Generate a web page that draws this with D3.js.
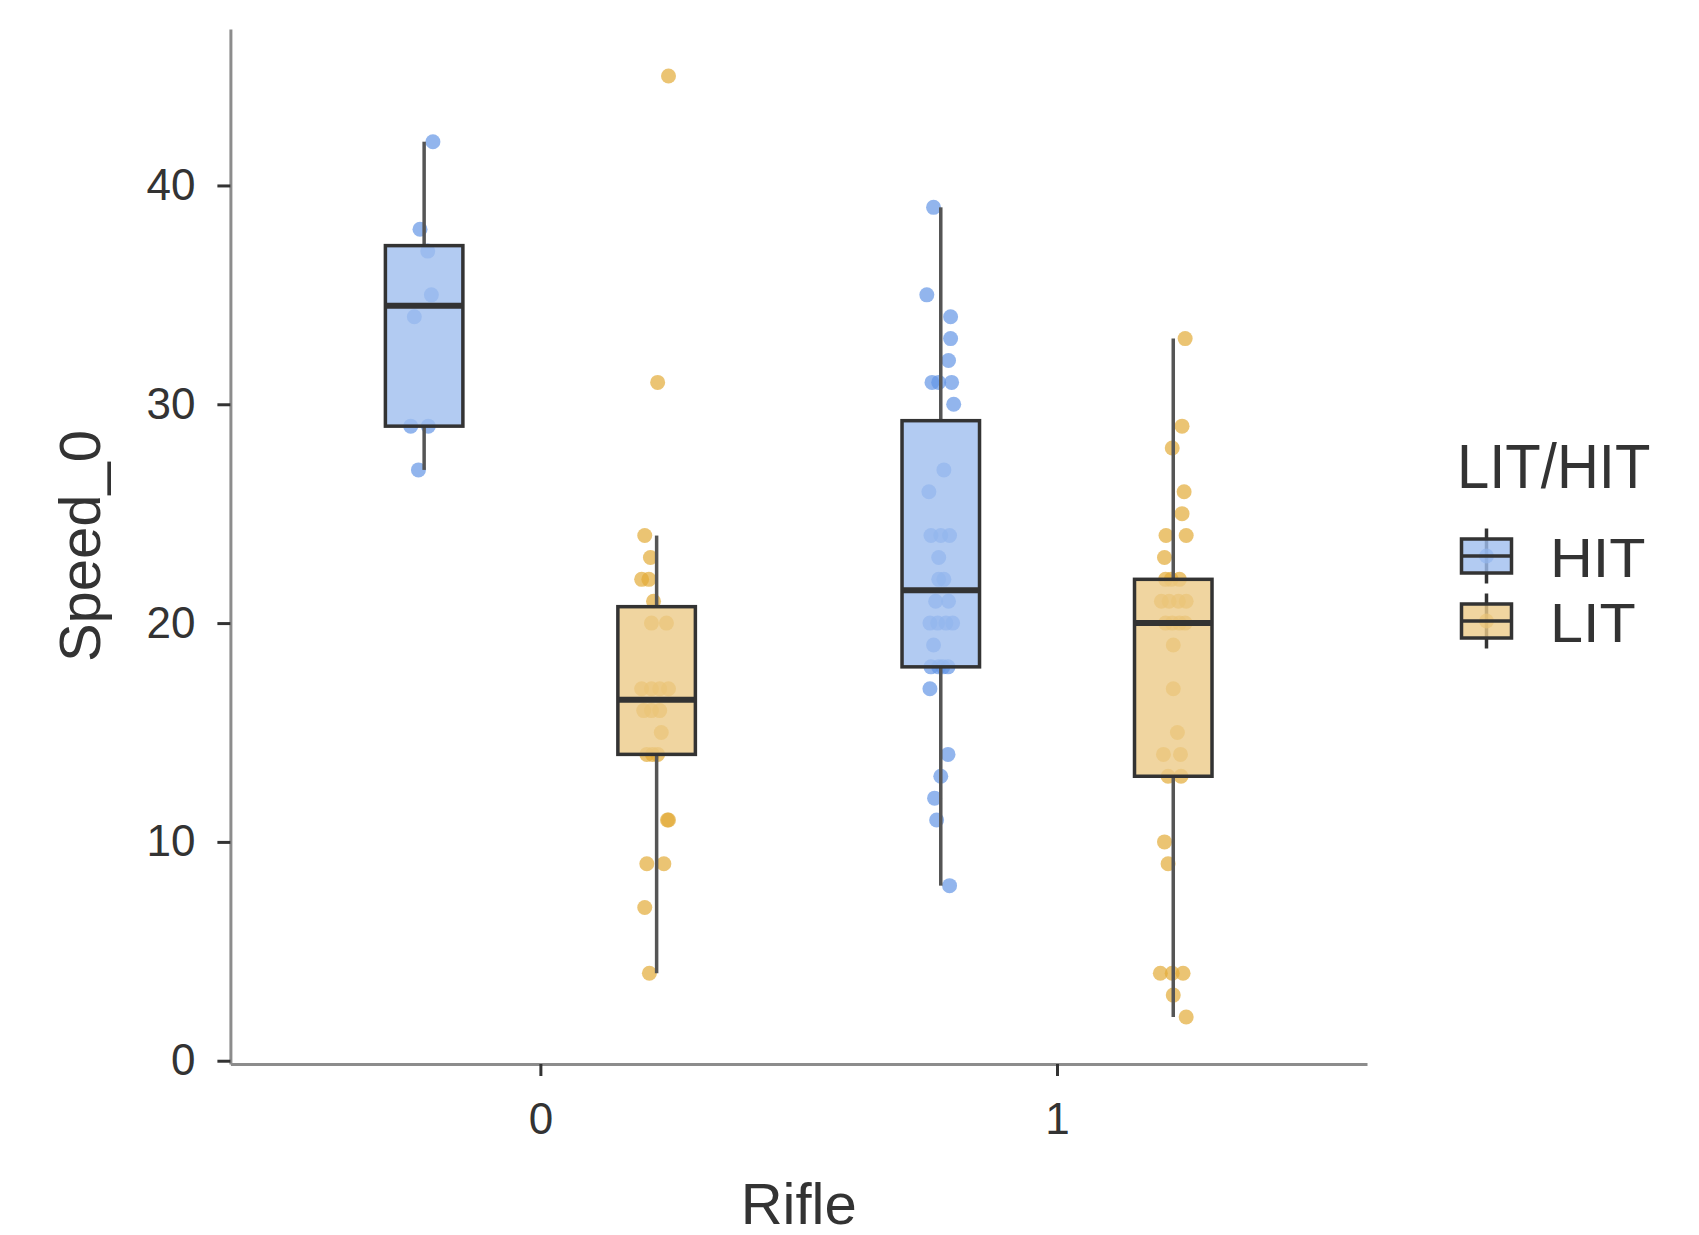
<!DOCTYPE html>
<html>
<head>
<meta charset="utf-8">
<script src="https://cdn.jsdelivr.net/npm/d3@7"></script>
<style>
  body { margin: 0; background: #fff; }
  text { font-family: "Liberation Sans", Arial, sans-serif; fill: #333; }
</style>
</head>
<body>
<div id="chart"></div>
<script>
var width = 1699;
var height = 1235;

// categories
var rifleCats = ["0", "1"];
var groups = ["HIT", "LIT"];
var yTicks = [0, 10, 20, 30, 40];

// Speed_0 values
var hit0 = [42, 38, 37, 35, 34, 29, 29, 27];
var lit0 = [45, 31, 24, 23, 22, 22, 21, 20, 20, 17, 17, 17, 17, 16, 16, 16, 15, 14, 14, 14, 11, 11, 9, 9, 7, 4];
var hit1 = [39, 35, 34, 33, 32, 31, 31, 31, 30, 27, 26, 24, 24, 24, 23, 22, 22, 21, 21, 20, 20, 20, 20, 19, 18, 18, 18, 18, 17, 14, 13, 12, 11, 8];
var lit1 = [33, 29, 28, 26, 25, 24, 24, 23, 22, 22, 22, 21, 21, 21, 21, 20, 20, 20, 20, 19, 17, 15, 14, 14, 13, 13, 10, 9, 4, 4, 4, 3, 2];

// horizontal jitter of each point, in category units
var hit0Jit = [0.017, -0.008, 0.007, 0.014, -0.019, -0.026, 0.008, -0.011];
var lit0Jit = [0.023, 0.002, -0.023, -0.012, -0.029, -0.015, -0.006, -0.010, 0.019, -0.029, -0.010, 0.006, 0.023, -0.025, -0.010, 0.006, 0.009, -0.019, -0.008, 0.002, 0.023, 0.021, -0.019, 0.014, -0.023, -0.014];
var hit1Jit = [-0.014, -0.027, 0.019, 0.019, 0.015, -0.017, -0.004, 0.021, 0.025, 0.006, -0.023, -0.019, 0, 0.017, -0.004, -0.004, 0.006, 0.015, -0.010, -0.021, -0.006, 0.010, 0.023, -0.014, -0.019, -0.004, 0.004, 0.014, -0.021, 0.014, 0, -0.012, -0.008, 0.017];
var lit1Jit = [0.023, 0.017, -0.002, 0.021, 0.017, -0.014, 0.025, -0.017, -0.015, -0.004, 0.012, -0.023, -0.008, 0.010, 0.025, -0.015, -0.002, 0.012, 0.023, 0, 0, 0.008, -0.019, 0.014, -0.010, 0.015, -0.017, -0.010, -0.025, -0.002, 0.019, 0, 0.025];

var colors = {HIT: "rgb(100,150,230)", LIT: "rgb(226,171,56)"};
var boxFill = {HIT: "rgb(159,190,239)", LIT: "rgb(236,203,136)"};

var boxes = [
  {rifle: 0, group: "HIT", values: hit0, jit: hit0Jit},
  {rifle: 0, group: "LIT", values: lit0, jit: lit0Jit},
  {rifle: 1, group: "HIT", values: hit1, jit: hit1Jit},
  {rifle: 1, group: "LIT", values: lit1, jit: lit1Jit}
];

var dodge = 0.225, boxW = 0.15;

var x = d3.scaleLinear().domain([0.4, 2.6]).range([230.4, 1367]);
var y = d3.scaleLinear().domain([-0.15, 47.15]).range([1064, 29]);

function cx(b) { return x(b.rifle + 1 + (b.group == "HIT" ? -dodge : dodge)); }

boxes.forEach(function(b) {
  var s = b.values.slice().sort(d3.ascending);
  b.q1 = d3.quantile(s, 0.25);
  b.med = d3.quantile(s, 0.5);
  b.q3 = d3.quantile(s, 0.75);
  var iqr = b.q3 - b.q1;
  b.lo = d3.min(s.filter(function(v) { return v >= b.q1 - 1.5 * iqr; }));
  b.hi = d3.max(s.filter(function(v) { return v <= b.q3 + 1.5 * iqr; }));
});

var svg = d3.select("#chart")
  .append("svg")
    .attr("width", width)
    .attr("height", height);

// jittered points
boxes.forEach(function(b) {
  svg.append("g").selectAll("circle")
    .data(b.values)
    .enter()
      .append("circle")
        .attr("cx", function(d, i) { return x(b.rifle + 1 + (b.group == "HIT" ? -dodge : dodge) + b.jit[i]); })
        .attr("cy", function(d) { return y(d); })
        .attr("r", 7.5)
        .attr("fill", colors[b.group])
        .attr("fill-opacity", 0.7);
});

// boxplots
var bp = svg.append("g").selectAll("g")
  .data(boxes)
  .enter()
    .append("g");

bp.append("line")
  .attr("x1", cx).attr("x2", cx)
  .attr("y1", function(b) { return y(b.hi); })
  .attr("y2", function(b) { return y(b.q3); })
  .attr("stroke", "#555").attr("stroke-width", 3.5);
bp.append("line")
  .attr("x1", cx).attr("x2", cx)
  .attr("y1", function(b) { return y(b.q1); })
  .attr("y2", function(b) { return y(b.lo); })
  .attr("stroke", "#555").attr("stroke-width", 3.5);

var half = (x(boxW) - x(0)) / 2;
bp.append("rect")
  .attr("x", function(b) { return cx(b) - half; })
  .attr("width", half * 2)
  .attr("y", function(b) { return y(b.q3); })
  .attr("height", function(b) { return y(b.q1) - y(b.q3); })
  .attr("fill", function(b) { return boxFill[b.group]; })
  .attr("fill-opacity", 0.8)
  .attr("stroke", "#333")
  .attr("stroke-width", 3.5);

bp.append("line")
  .attr("x1", function(b) { return cx(b) - half; })
  .attr("x2", function(b) { return cx(b) + half; })
  .attr("y1", function(b) { return y(b.med); })
  .attr("y2", function(b) { return y(b.med); })
  .attr("stroke", "#333").attr("stroke-width", 6);

// axes
var yAxis = svg.append("g")
  .attr("transform", "translate(230.4,0)")
  .call(d3.axisLeft(y).tickValues(yTicks).tickSize(13).tickSizeOuter(0).tickPadding(22));
var xAxis = svg.append("g")
  .attr("transform", "translate(0,1064)")
  .call(d3.axisBottom(x).tickValues([1, 2]).tickFormat(function(d) { return rifleCats[d - 1]; })
    .tickSize(12).tickSizeOuter(0).tickPadding(27));

[yAxis, xAxis].forEach(function(a) {
  a.select(".domain").attr("stroke", "#8c8c8c").attr("stroke-width", 3);
  a.selectAll(".tick line").attr("stroke", "#333").attr("stroke-width", 3);
  a.selectAll(".tick text").attr("font-size", 44).attr("fill", "#3a3a3a")
    .style("font-family", "'Liberation Sans', Arial, sans-serif");
});

svg.append("text")
  .attr("x", 798.7).attr("y", 1224)
  .attr("text-anchor", "middle")
  .attr("font-size", 58)
  .text("Rifle");

svg.append("text")
  .attr("transform", "translate(100,546) rotate(-90)")
  .attr("text-anchor", "middle")
  .attr("font-size", 58)
  .text("Speed_0");

// legend
var leg = svg.append("g");
leg.append("text")
  .attr("transform", "translate(1457,488) scale(1,1.08)")
  .attr("font-size", 58)
  .text("LIT/HIT");

var keys = leg.selectAll("g.key")
  .data(groups)
  .enter()
    .append("g")
      .attr("class", "key")
      .attr("transform", function(d, i) { return "translate(1486.5," + (556 + i * 65) + ")"; });

keys.append("line")
  .attr("y1", -27.5).attr("y2", 27.5)
  .attr("stroke", "#333").attr("stroke-width", 3.5);
keys.append("circle")
  .attr("r", 7.5)
  .attr("fill", function(d) { return colors[d]; })
  .attr("fill-opacity", 0.7);
keys.append("rect")
  .attr("x", -25).attr("y", -17)
  .attr("width", 50).attr("height", 34)
  .attr("fill", function(d) { return boxFill[d]; })
  .attr("fill-opacity", 0.8)
  .attr("stroke", "#333").attr("stroke-width", 3.5);
keys.append("line")
  .attr("x1", -25).attr("x2", 25)
  .attr("stroke", "#333").attr("stroke-width", 3.5);
keys.append("text")
  .attr("transform", "translate(63.5,20.5) scale(1.06,1)")
  .attr("font-size", 56)
  .text(function(d) { return d; });
</script>
</body>
</html>
